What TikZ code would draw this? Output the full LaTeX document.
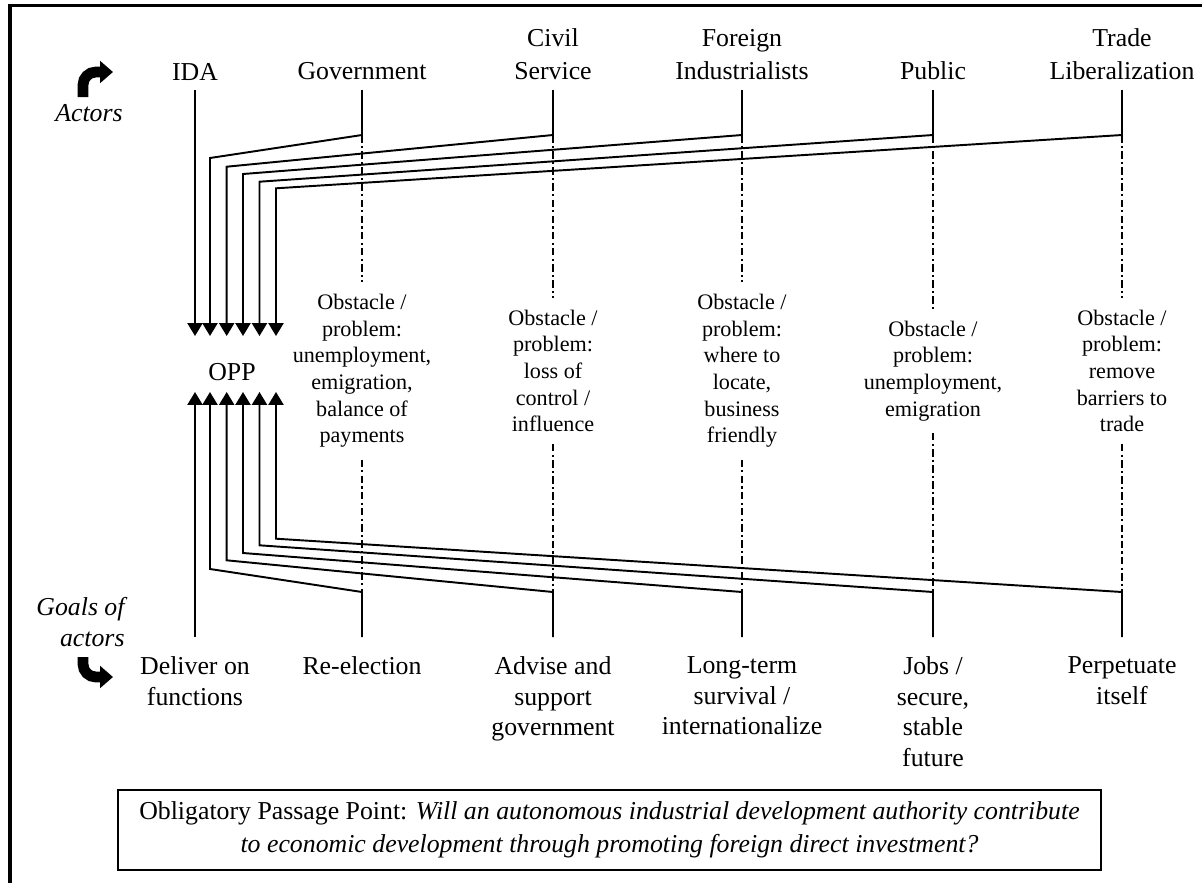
\documentclass[tikz,border=0pt]{standalone}
\usepackage{fontspec}
\setmainfont{Liberation Serif}
\usetikzlibrary{arrows.meta}

\newcommand{\bigtxt}{\fontsize{12}{15.5}\selectfont}
\newcommand{\goaltxt}{\fontsize{12}{14.2}\selectfont}
\newcommand{\obstxt}{\fontsize{10.3}{12.4}\selectfont}

\begin{document}
\begin{tikzpicture}[x=0.465pt, y=-0.465pt,
    actor/.style={align=center, anchor=south, inner sep=0pt, outer ysep=4.6pt, font=\bigtxt},
    goal/.style={align=center, anchor=north, inner sep=0pt, outer ysep=9.3pt, font=\goaltxt},
    obst/.style={align=center, inner sep=0pt, outer ysep=5.5pt, font=\obstxt},
    link/.style={line width=0.9pt, -{Triangle[width=7pt,length=6pt]}},
    trace/.style={line width=0.8pt, dash pattern=on 3.5pt off 1.5pt on 1pt off 1.5pt},
    bent/.style={line width=5pt, rounded corners=6pt, -{Triangle[width=10pt,length=6pt]}}]
        \useasboundingbox (0,0) rectangle (1202,883);
        \draw [line width=1.5pt] (10,883) -- (10,5.5) -- (1202,5.5);
        % actors along the top
        \node [actor] (ida) at (195,90) {IDA};
        \node [actor] (gov) at (362,90) {Government};
        \node [actor] (civ) at (553,90) {Civil\\Service};
        \node [actor] (frn) at (742,90) {Foreign\\Industrialists};
        \node [actor] (pub) at (933,90) {Public};
        \node [actor] (trd) at (1122,90) {Trade\\Liberalization};
        \node [anchor=base, inner sep=0pt, font=\bigtxt\itshape] (actors) at (89,121) {Actors};
        \draw [bent] (83,97) |- (113,72);
        % obstacles
        \node [obst] (gov-ob) at (362,371) {Obstacle /\\problem:\\unemployment,\\emigration,\\balance of\\payments};
        \node [obst] (civ-ob) at (553,371) {Obstacle /\\problem:\\loss of\\control /\\influence};
        \node [obst] (frn-ob) at (742,371) {Obstacle /\\problem:\\where to\\locate,\\business\\friendly};
        \node [obst] (pub-ob) at (933,371) {Obstacle /\\problem:\\unemployment,\\emigration};
        \node [obst] (trd-ob) at (1122,371) {Obstacle /\\problem:\\remove\\barriers to\\trade};
        \node [inner sep=0pt, font=\bigtxt] (opp) at (232,372) {OPP};
        % goals along the bottom
        \node [goal] (ida-gl) at (195,637) {Deliver on\\functions};
        \node [goal] (gov-gl) at (362,637) {Re-election};
        \node [goal] (civ-gl) at (553,637) {Advise and\\support\\government};
        \node [goal] (frn-gl) at (742,637) {Long-term\\survival /\\internationalize};
        \node [goal] (pub-gl) at (933,637) {Jobs /\\secure,\\stable\\future};
        \node [goal] (trd-gl) at (1122,637) {Perpetuate\\itself};
        \node [align=right, anchor=south east, inner sep=0pt, font=\goaltxt\itshape] (goals) at (125,647) {Goals of\\actors};
        \draw [bent] (83,657) |- (113,677);
        % paths into the OPP
        \draw [link] (ida.south) -- (ida |- 0,336);
        \draw [link] (ida-gl.north) -- (ida |- 0,392);
        \foreach \n/\xl/\dy in {gov/210/23, civ/226.7/31.7, frn/243/39, pub/259.5/46.7, trd/276/53.3} {
            \draw [link] (\n.south) -- (\n |- 0,135) -- (\xl,135+\dy) -- (\xl,336);
            \draw [link] (\n-gl.north) -- (\n |- 0,592) -- (\xl,592-\dy) -- (\xl,392);
            \draw [trace] (\n |- 0,135) -- (\n-ob.north);
            \draw [trace] (\n-ob.south) -- (\n |- 0,592);
        }
        \node [draw, line width=0.9pt, minimum width=457pt, minimum height=37.2pt, inner sep=0pt,
            align=center, font=\fontsize{12}{15.3}\selectfont] (oppbox) at (609.5,830)
            {Obligatory Passage Point: \textit{Will an autonomous industrial development authority contribute}\\
             \textit{to economic development through promoting foreign direct investment?}};
\end{tikzpicture}
\end{document}
